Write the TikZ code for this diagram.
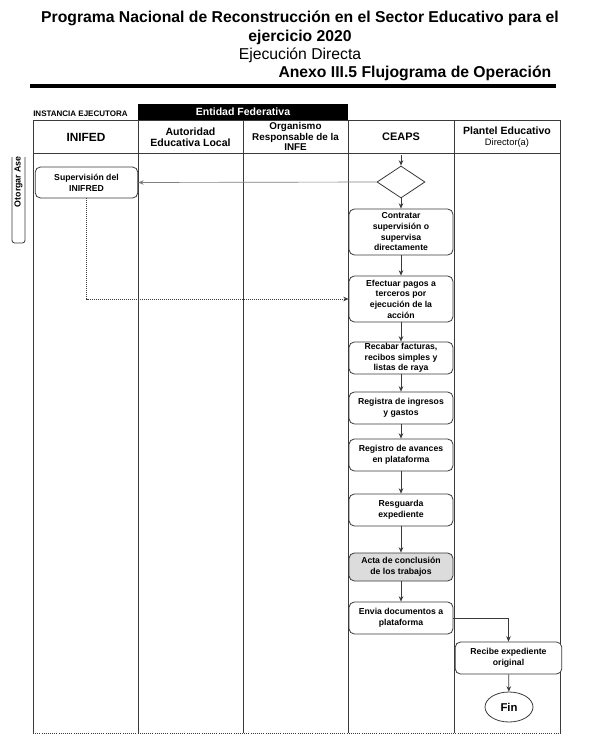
\documentclass[tikz,border=0pt]{standalone}
\usepackage{fontspec}
\setmainfont{Liberation Sans}
\usetikzlibrary{shapes.geometric,arrows.meta}
\definecolor{ln}{HTML}{3A3A3A}
\definecolor{actagray}{HTML}{DCDCDC}
\begin{document}
\begin{tikzpicture}[x=0.75pt,y=-0.75pt,
  proc/.style={draw=ln,rounded corners=4pt,fill=white,align=center,inner sep=1pt,
     font=\fontsize{6.5pt}{8pt}\selectfont\bfseries,line width=0.6pt},
  hdr/.style={align=center,font=\fontsize{7.9pt}{8.6pt}\selectfont\bfseries},
  arr/.style={-{Stealth[length=4pt,width=3.4pt]},draw=ln,line width=0.5pt},
  lane/.style={draw=ln,line width=0.6pt}]
\useasboundingbox (0,0) rectangle (590,753);
% titles
\node[font=\fontsize{11.8pt}{13pt}\selectfont\bfseries] (t1) at (300,18) {Programa Nacional de Reconstrucción en el Sector Educativo para el};
\node[font=\fontsize{11.8pt}{13pt}\selectfont\bfseries] (t2) at (300,37) {ejercicio 2020};
\node[font=\fontsize{11.8pt}{13pt}\selectfont] (t3) at (300,55) {Ejecución Directa};
\node[font=\fontsize{11.8pt}{13pt}\selectfont\bfseries,anchor=east] (t4) at (556,73) {Anexo III.5 Flujograma de Operación};
\draw[line width=2.4pt,black] (30,86) -- (556,86);
% header
\node[font=\fontsize{6pt}{7pt}\selectfont\bfseries,anchor=west,inner sep=0pt] (inst) at (33,114) {INSTANCIA EJECUTORA};
\fill[black] (138,104) rectangle (348,120);
\node[font=\fontsize{7.9pt}{8pt}\selectfont\bfseries,text=white] (ent) at (243,111.5) {Entidad Federativa};
\draw[lane] (33,120) -- (560,120);
\draw[lane] (33,153) -- (560,153);
\foreach \xx in {33,138,243,348,454,560} \draw[lane] (\xx,120) -- (\xx,733);
\draw[ln,line width=0.6pt,densely dotted] (33,733) -- (560,733);
\node[hdr,font=\fontsize{8.9pt}{9pt}\selectfont\bfseries] (h1) at (86,137) {INIFED};
\node[hdr] (h2) at (190.5,137) {Autoridad\\Educativa Local};
\node[hdr,font=\fontsize{7.4pt}{7.7pt}\selectfont\bfseries] (h3) at (295.5,136.5) {Organismo\\Responsable de la\\INFE};
\node[hdr,font=\fontsize{8.2pt}{9pt}\selectfont\bfseries] (h4) at (401,137) {CEAPS};
\node[hdr,align=center] (h5) at (507,137) {Plantel Educativo\\{\fontsize{7pt}{8.5pt}\selectfont\mdseries Director(a)}};
% side label
\draw[ln,line width=0.6pt,rounded corners=2pt] (25,157) -- (25,243) -- (12,243) -- (12,157);
\node[rotate=90,anchor=east,font=\fontsize{6.6pt}{7pt}\selectfont\bfseries,inner sep=0pt] (side) at (18.5,156) {Otorgar Ase};
% nodes
\coordinate (start) at (401,155);
\node[diamond,draw=ln,fill=white,minimum width=36pt,minimum height=24pt,inner sep=0pt,line width=0.6pt,aspect=1.5] (dec) at (401,182) {};
\node[proc,minimum width=77pt,minimum height=23.3pt] (sup) at (86.5,182.5) {Supervisión del\\INIFRED};
\node[proc,minimum width=78pt,minimum height=34.5pt] (con) at (401,232) {Contratar\\supervisión o\\supervisa\\directamente};
\node[proc,minimum width=78pt,minimum height=34.5pt] (efe) at (401,299) {Efectuar pagos a\\terceros por\\ejecución de la\\acción};
\node[proc,minimum width=78pt,minimum height=24pt] (rec) at (401,358) {Recabar facturas,\\recibos simples y\\listas de raya};
\node[proc,minimum width=78pt,minimum height=24pt] (reg) at (401,408) {Registra de ingresos\\y gastos};
\node[proc,minimum width=78pt,minimum height=24pt] (ava) at (401,455) {Registro de avances\\en plataforma};
\node[proc,minimum width=78pt,minimum height=24pt] (res) at (401,510) {Resguarda\\expediente};
\node[proc,fill=actagray,minimum width=78pt,minimum height=21pt] (act) at (401,567) {Acta de conclusión\\de los trabajos};
\node[proc,minimum width=78pt,minimum height=24pt] (env) at (401,618) {Envia documentos a\\plataforma};
\node[proc,minimum width=80pt,minimum height=24pt] (rcb) at (508.5,658) {Recibe expediente\\original};
\node[ellipse,draw=ln,line width=0.6pt,minimum width=36pt,minimum height=22.5pt,inner sep=0pt,font=\fontsize{8.5pt}{9pt}\selectfont\bfseries] (fin) at (509,707) {Fin};
% connectors
\draw[arr] (start) -- (dec.north);
\draw[arr,draw=gray] (dec.west) -- (sup.east);
\draw[arr] (dec.south) -- (con.north);
\draw[arr] (con) -- (efe);
\draw[arr] (efe) -- (rec);
\draw[arr] (rec) -- (reg);
\draw[arr] (reg) -- (ava);
\draw[arr] (ava) -- (res);
\draw[arr] (res) -- (act);
\draw[arr] (act) -- (env);
\draw[arr] (env.east) -| (rcb.north);
\draw[arr] (rcb) -- (fin);
\draw[arr,densely dotted] (sup.south) |- (efe.west);
\end{tikzpicture}
\end{document}
